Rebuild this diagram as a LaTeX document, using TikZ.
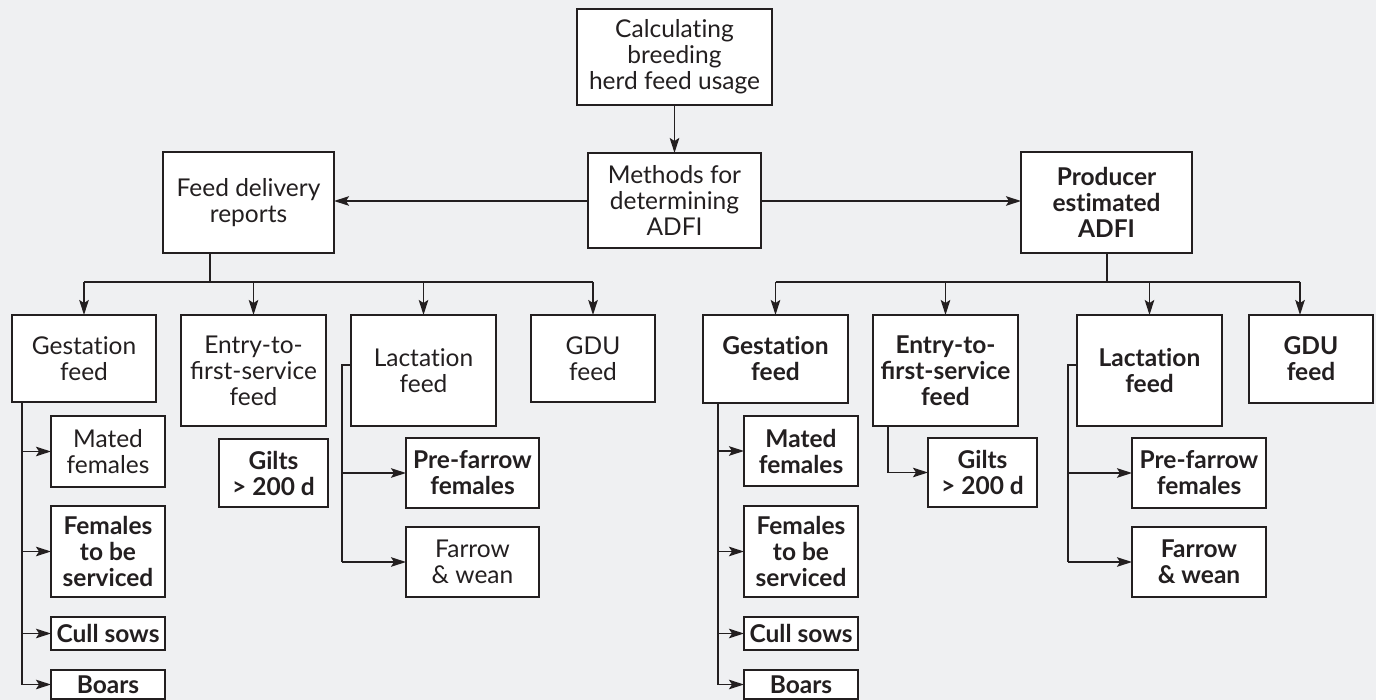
\documentclass[tikz,border=0pt]{standalone}
\usepackage{fontspec}
\setmainfont{Lato}[Ligatures=NoCommon]
\usetikzlibrary{arrows.meta}
\definecolor{ink}{HTML}{231F20}
\definecolor{bg}{HTML}{EFF0F2}
\begin{document}
\begin{tikzpicture}[x=1pt,y=-1pt,
  box/.style={draw=ink, fill=white, line width=2.3pt, inner sep=0pt, outer sep=0pt,
    align=center, text=ink, font=\fontsize{24.5pt}{26pt}\selectfont},
  bbox/.style={box, font=\fontsize{24.5pt}{26pt}\selectfont\bfseries},
  conn/.style={draw=ink, line width=1.7pt},
  arr/.style={conn, -{Stealth[length=15pt,width=9.5pt,inset=3pt]}}]
\fill[bg] (0,0) rectangle (1376,700);
\useasboundingbox (0,0) rectangle (1376,700);
% top
\node[box, minimum width=195, minimum height=96] (top) at (674.5,57) {Calculating\\breeding\\herd feed usage};
\node[box, minimum width=173, minimum height=95] (meth) at (674.5,200.5) {Methods for\\determining\\ADFI};
\node[box, minimum width=171, minimum height=101] (fdr) at (248.5,202.5) {Feed delivery\\reports};
\node[bbox, minimum width=171, minimum height=101] (prod) at (1106.5,202.5) {Producer\\estimated\\ADFI};
% left row
\node[box, minimum width=144, minimum height=87] (lgest) at (84,358.5) {Gestation\\feed};
\node[box, minimum width=145, minimum height=111] (lentry) at (253.5,370.5) {Entry-to-\\ﬁrst-service\\feed};
\node[box, minimum width=145, minimum height=111] (llact) at (423.5,370.5) {Lactation\\feed};
\node[box, minimum width=124, minimum height=87] (lgdu) at (593,358.5) {GDU\\feed};
\node[box, minimum width=114, minimum height=71] (lmated) at (108,451.5) {Mated\\females};
\node[bbox, minimum width=114, minimum height=91] (lfem) at (108,551.5) {Females\\to be\\serviced};
\node[bbox, minimum width=114, minimum height=33] (lcull) at (108,633.5) {Cull sows};
\node[bbox, minimum width=114, minimum height=29] (lboars) at (108,684.5) {Boars};
\node[bbox, minimum width=109, minimum height=68] (lgilts) at (273.5,473) {Gilts\\> 200 d};
\node[bbox, minimum width=133, minimum height=70] (lpre) at (472.5,473) {Pre-farrow\\females};
\node[box, minimum width=133, minimum height=70] (lfar) at (472.5,562) {Farrow\\\& wean};
% right row
\node[bbox, minimum width=145, minimum height=88] (rgest) at (775.5,359) {Gestation\\feed};
\node[bbox, minimum width=145, minimum height=111] (rentry) at (945.5,370.5) {Entry-to-\\ﬁrst-service\\feed};
\node[bbox, minimum width=145, minimum height=111] (rlact) at (1149.5,370.5) {Lactation\\feed};
\node[bbox, minimum width=124, minimum height=88] (rgdu) at (1311,359) {GDU\\feed};
\node[bbox, minimum width=114, minimum height=70] (rmated) at (801,451) {Mated\\females};
\node[bbox, minimum width=114, minimum height=91] (rfem) at (801,551.5) {Females\\to be\\serviced};
\node[bbox, minimum width=114, minimum height=33] (rcull) at (801,633.5) {Cull sows};
\node[bbox, minimum width=114, minimum height=29] (rboars) at (801,684.5) {Boars};
\node[bbox, minimum width=109, minimum height=69] (rgilts) at (982.5,472.5) {Gilts\\> 200 d};
\node[bbox, minimum width=134, minimum height=70] (rpre) at (1199,473) {Pre-farrow\\females};
\node[bbox, minimum width=134, minimum height=70] (rfar) at (1199,562) {Farrow\\\& wean};
% coordinates
\coordinate (lbus) at (210,282);
\coordinate (rbus) at (1107,282);
\coordinate (rgdudrop) at (1300,282);
\coordinate (lgx) at (22,0);
\coordinate (rgx) at (718,0);
\coordinate (llx) at (342,365);
\coordinate (rlx) at (1068,365);
\coordinate (rex) at (888,0);
% top connectors
\draw[arr] (top) -- (meth);
\draw[arr] (meth.west |- 0,201) -- (fdr.east |- 0,201);
\draw[arr] (meth.east |- 0,201) -- (prod.west |- 0,201);
% left bus
\draw[conn] (fdr.south -| lbus) -- (lbus);
\draw[conn] (lgest.north |- lbus) -- (lgdu.north |- lbus);
\foreach \n in {lgest,lentry,llact,lgdu}{\draw[arr] (\n.north |- lbus) -- (\n.north);}
% right bus
\draw[conn] (prod.south -| rbus) -- (rbus);
\draw[conn] (rgest.north |- rbus) -- (rgdudrop);
\foreach \n in {rgest,rentry,rlact}{\draw[arr] (\n.north |- rbus) -- (\n.north);}
\draw[arr] (rgdudrop) -- (rgdudrop |- rgdu.north);
% left gestation
\draw[conn] (lgest.south -| lgx) -- (lboars.west -| lgx);
\foreach \n in {lmated,lfem,lcull,lboars}{\draw[arr] (\n.west -| lgx) -- (\n.west);}
% left lactation
\draw[conn] (llx -| llact.west) -- (llx) -- (lfar.west -| llx);
\foreach \n in {lpre,lfar}{\draw[arr] (\n.west -| llx) -- (\n.west);}
% right gestation
\draw[conn] (rgest.south -| rgx) -- (rboars.west -| rgx);
\foreach \n in {rmated,rfem,rcull,rboars}{\draw[arr] (\n.west -| rgx) -- (\n.west);}
% right entry
\draw[arr] (rentry.south -| rex) |- (rgilts.west);
% right lactation
\draw[conn] (rlx -| rlact.west) -- (rlx) -- (rfar.west -| rlx);
\foreach \n in {rpre,rfar}{\draw[arr] (\n.west -| rlx) -- (\n.west);}
\end{tikzpicture}
\end{document}
